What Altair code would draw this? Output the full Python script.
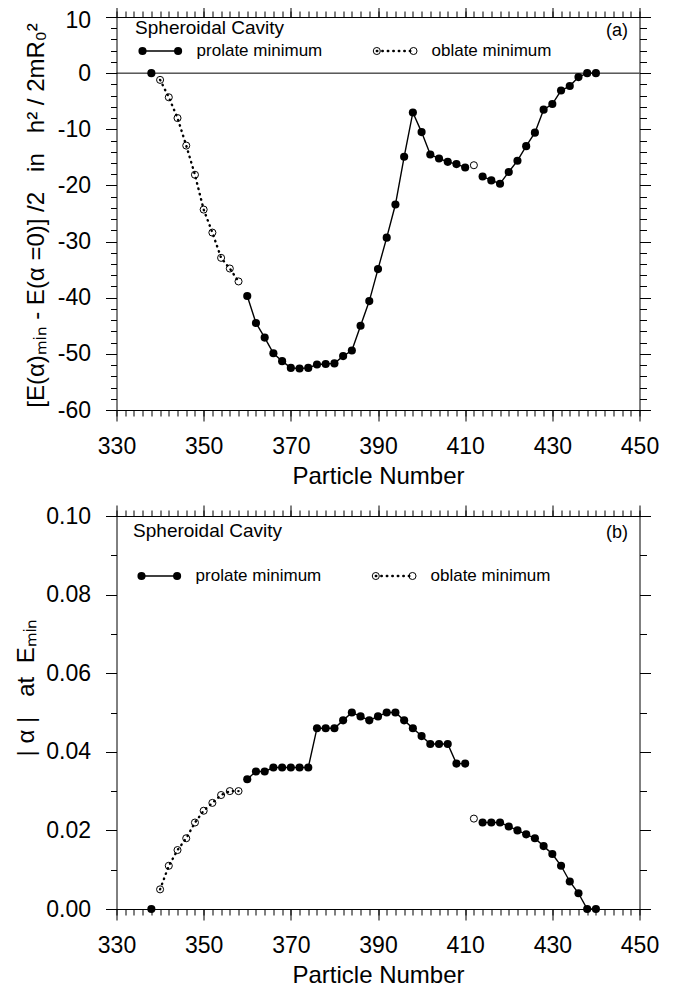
import altair as alt
import pandas as pd

FONT = "Liberation Sans"

# ---------------- data ----------------
# Panel (a): energy difference
A_PRO_SINGLE_N = [338]
A_PRO_SINGLE_E = [0.0]
A_OBL_1_N = [340, 342, 344, 346, 348, 350, 352, 354, 356, 358]
A_OBL_1_E = [-1.2, -4.3, -8.0, -12.9, -18.1, -24.3, -28.4, -32.9, -34.8, -37.1]
A_PRO_1_N = [360, 362, 364, 366, 368, 370, 372, 374, 376, 378, 380, 382, 384,
             386, 388, 390, 392, 394, 396, 398, 400, 402, 404, 406, 408, 410]
A_PRO_1_E = [-39.7, -44.5, -47.1, -49.9, -51.3, -52.5, -52.6, -52.5, -51.9, -51.8,
             -51.7, -50.4, -49.4, -45.0, -40.6, -34.9, -29.3, -23.4, -14.9, -7.0,
             -10.5, -14.5, -15.2, -15.8, -16.2, -16.8]
A_OBL_SINGLE_N = [412]
A_OBL_SINGLE_E = [-16.4]
A_PRO_2_N = [414, 416, 418, 420, 422, 424, 426, 428, 430, 432, 434, 436, 438, 440]
A_PRO_2_E = [-18.4, -19.1, -19.7, -17.6, -15.6, -13.0, -10.6, -6.5, -5.5, -3.1,
             -2.3, -0.7, 0.0, 0.0]

# Panel (b): |alpha| at the minimum
B_PRO_SINGLE_A = [0.0]
B_OBL_1_A = [0.005, 0.011, 0.015, 0.018, 0.022, 0.025, 0.027, 0.029, 0.030, 0.030]
B_PRO_1_A = [0.033, 0.035, 0.035, 0.036, 0.036, 0.036, 0.036, 0.036, 0.046, 0.046,
             0.046, 0.048, 0.050, 0.049, 0.048, 0.049, 0.050, 0.050, 0.048, 0.046,
             0.044, 0.042, 0.042, 0.042, 0.037, 0.037]
B_OBL_SINGLE_A = [0.023]
B_PRO_2_A = [0.022, 0.022, 0.022, 0.021, 0.020, 0.019, 0.018, 0.016, 0.014, 0.011,
             0.007, 0.004, 0.000, 0.000]

X_DOMAIN = [330, 450]
X_MAJOR = [330, 350, 370, 390, 410, 430, 450]
X_MINOR = list(range(330, 451, 2))

YA_DOMAIN = [-60, 10]
YA_MAJOR = [-60, -50, -40, -30, -20, -10, 0, 10]
YA_MINOR = list(range(-60, 11, 2))

YB_DOMAIN = [0, 0.1]
YB_MAJOR = [0.0, 0.02, 0.04, 0.06, 0.08, 0.10]
YB_MINOR = [0.0, 0.01, 0.02, 0.03, 0.04, 0.05, 0.06, 0.07, 0.08, 0.09, 0.10]

TITLE_A = "[E(\u03b1)\u2098\u1d62\u2099 - E(\u03b1 =0)] /2\u00a0\u00a0 in \u00a0\u00a0h\u00b2 / 2mR\u2080\u00b2"
TITLE_B = "| \u03b1 |\u00a0\u00a0 at \u00a0E\u2098\u1d62\u2099"


def frame(parts):
    rows = []
    for kind, seg, ns, vs in parts:
        for n, v in zip(ns, vs):
            rows.append({"n": n, "v": v, "kind": kind, "seg": seg})
    return pd.DataFrame(rows)


df_a = frame([
    ("prolate", 0, A_PRO_SINGLE_N, A_PRO_SINGLE_E),
    ("oblate", 1, A_OBL_1_N, A_OBL_1_E),
    ("prolate", 2, A_PRO_1_N, A_PRO_1_E),
    ("oblate", 3, A_OBL_SINGLE_N, A_OBL_SINGLE_E),
    ("prolate", 4, A_PRO_2_N, A_PRO_2_E),
])
df_b = frame([
    ("prolate", 0, A_PRO_SINGLE_N, B_PRO_SINGLE_A),
    ("oblate", 1, A_OBL_1_N, B_OBL_1_A),
    ("prolate", 2, A_PRO_1_N, B_PRO_1_A),
    ("oblate", 3, A_OBL_SINGLE_N, B_OBL_SINGLE_A),
    ("prolate", 4, A_PRO_2_N, B_PRO_2_A),
])

ONE = pd.DataFrame({"a": [0]})

COMMON = dict(domainColor="black", tickColor="black", labelColor="black",
              titleColor="black", labelFont=FONT, titleFont=FONT, grid=False,
              domainWidth=1, tickWidth=1)


def text(s, x, y, size, align="left", baseline="alphabetic"):
    return alt.Chart(ONE).mark_text(text=s, font=FONT, fontSize=size, align=align,
                                    baseline=baseline, color="black").encode(
        x=alt.value(x), y=alt.value(y))


def panel(df, ydom, ymaj, ymin, label_kw, ytitle, ttx, tty, tag, cav_x, cav_y,
          leg_y, leg_x, obl_x, zero_line):
    xs = alt.Scale(domain=X_DOMAIN, nice=False, zero=False)
    ys = alt.Scale(domain=ydom, nice=False, zero=False)

    xb_major = alt.Axis(orient="bottom", values=X_MAJOR, tickSize=11, labelFontSize=23,
                        labelPadding=14, labelFlush=False, format="d",
                        title="Particle Number", titleFontSize=24,
                        titleFontWeight="normal", titlePadding=6, **COMMON)
    xb_minor = alt.Axis(orient="bottom", values=X_MINOR, tickSize=6, labels=False,
                        domain=False, title="", **COMMON)
    xt_major = alt.Axis(orient="top", values=X_MAJOR, tickSize=11, labels=False,
                        title="", **COMMON)
    xt_minor = alt.Axis(orient="top", values=X_MINOR, tickSize=6, labels=False,
                        domain=False, title="", **COMMON)
    yl_major = alt.Axis(orient="left", values=ymaj, tickSize=11, labelFontSize=23,
                        labelPadding=15, title=ytitle, titleFontSize=24,
                        titleFontWeight="normal", titleX=ttx, titleY=tty,
                        titleAngle=270, titleBaseline="alphabetic", titleAlign="center",
                        **label_kw, **COMMON)
    yl_minor = alt.Axis(orient="left", values=ymin, tickSize=6, labels=False,
                        domain=False, title="", **COMMON)
    yr_major = alt.Axis(orient="right", values=ymaj, tickSize=11, labels=False,
                        title="", **COMMON)
    yr_minor = alt.Axis(orient="right", values=ymin, tickSize=7, labels=False,
                        domain=False, title="", **COMMON)

    pro = df[df["kind"] == "prolate"]
    obl = df[df["kind"] == "oblate"]

    pro_line = alt.Chart(pro).mark_line(color="black", strokeWidth=1.4).encode(
        x=alt.X("n:Q", scale=xs, axis=xb_major),
        y=alt.Y("v:Q", scale=ys, axis=yl_major),
        detail="seg:N")
    pro_pts = alt.Chart(pro).mark_circle(size=66, color="black", opacity=1).encode(
        x=alt.X("n:Q", scale=xs, axis=xb_minor),
        y=alt.Y("v:Q", scale=ys, axis=yl_minor))
    obl_line = alt.Chart(obl).mark_line(color="black", strokeWidth=2.4,
                                        strokeDash=[0.5, 5], strokeCap="round").encode(
        x=alt.X("n:Q", scale=xs, axis=xt_major),
        y=alt.Y("v:Q", scale=ys, axis=yr_major),
        detail="seg:N")
    obl_pts = alt.Chart(obl).mark_point(shape="circle", filled=False, size=50,
                                        color="black", strokeWidth=1, opacity=1).encode(
        x=alt.X("n:Q", scale=xs, axis=xt_minor),
        y=alt.Y("v:Q", scale=ys, axis=yr_minor))

    layers = []
    if zero_line:
        layers.append(alt.Chart(pd.DataFrame({"z": [0]})).mark_rule(
            color="black", strokeWidth=1).encode(y=alt.Y("z:Q", scale=ys, axis=None)))
    layers += [pro_line, obl_line, obl_pts, pro_pts]

    # annotations / legend
    layers.append(text("Spheroidal Cavity", cav_x, cav_y, 19))
    layers.append(text(tag, 511.5, cav_y + 1.5, 18, align="right"))
    lx1, lx2 = leg_x, leg_x + 35.6
    layers.append(alt.Chart(ONE).mark_rule(color="black", strokeWidth=1.4).encode(
        x=alt.value(lx1), x2=alt.value(lx2), y=alt.value(leg_y)))
    layers.append(alt.Chart(ONE).mark_circle(size=66, color="black", opacity=1).encode(
        x=alt.value(lx1), y=alt.value(leg_y)))
    layers.append(alt.Chart(ONE).mark_circle(size=66, color="black", opacity=1).encode(
        x=alt.value(lx2), y=alt.value(leg_y)))
    layers.append(text("prolate minimum", lx2 + 18.5, leg_y, 17, baseline="middle"))
    ox1, ox2 = obl_x, obl_x + 36.7
    layers.append(alt.Chart(ONE).mark_rule(color="black", strokeWidth=2.4,
                                           strokeDash=[0.5, 5], strokeCap="round").encode(
        x=alt.value(ox1), x2=alt.value(ox2), y=alt.value(leg_y)))
    layers.append(alt.Chart(ONE).mark_point(shape="circle", filled=False, size=50,
                                            color="black", strokeWidth=1, opacity=1).encode(
        x=alt.value(ox1), y=alt.value(leg_y)))
    layers.append(alt.Chart(ONE).mark_point(shape="circle", filled=False, size=50,
                                            color="black", strokeWidth=1, opacity=1).encode(
        x=alt.value(ox2), y=alt.value(leg_y)))
    layers.append(text("oblate minimum", ox2 + 18, leg_y, 17, baseline="middle"))

    return alt.layer(*layers).properties(width=523, height=393).resolve_axis(
        x="independent", y="independent")


top = panel(df_a, YA_DOMAIN, YA_MAJOR, YA_MINOR,
            {"labelExpr": "datum.value < 0 ? '-' + abs(datum.value) : '' + datum.value",
             "labelOffset": {"condition": {"test": "datum.value == 10", "value": 3},
                             "value": 0}},
            TITLE_A, -73, 198, "(a)", 18.6, 17.3, 34, 26, 260.3, True)
bottom = panel(df_b, YB_DOMAIN, YB_MAJOR, YB_MINOR, {"format": ".2f"},
               TITLE_B, -83.4, 171, "(b)", 16.6, 20.6, 60, 25, 259.3, False)

chart = alt.vconcat(top, bottom, spacing=16).properties(
    padding={"left": 5.5, "top": -3, "right": 5, "bottom": 5}
).configure_view(stroke=None)

chart.save("out.html", embed_options={"renderer": "svg", "actions": False})
